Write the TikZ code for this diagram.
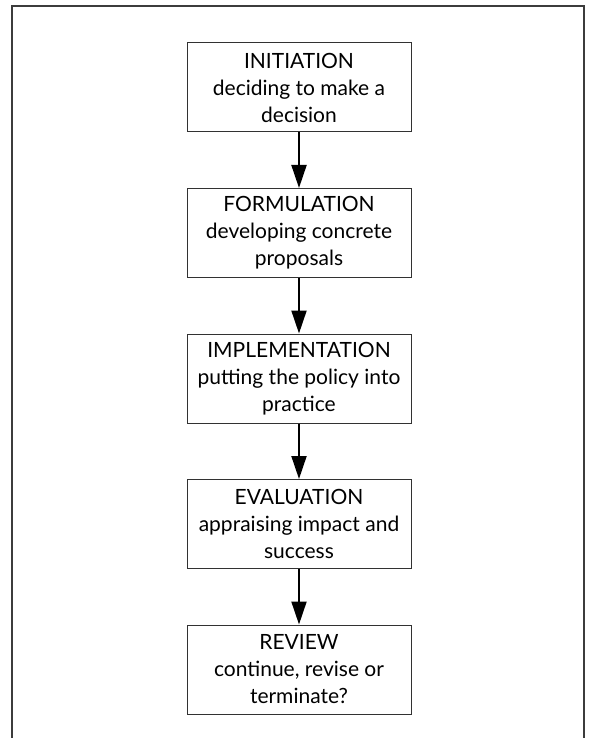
\documentclass[tikz,border=0pt]{standalone}
\usepackage{fontspec}
\setmainfont{Lato}
\usepackage{tikz}
\usetikzlibrary{positioning,calc}
\usetikzlibrary{arrows.meta}
\definecolor{FrameGray}{RGB}{60,60,60}
\definecolor{BoxGray}{RGB}{50,50,50}
\tikzset{
  stage/.style={draw=BoxGray,line width=1pt,fill=white,inner sep=4pt,
    minimum width=224pt,minimum height=89pt,align=center,
    font=\fontsize{21}{27}\selectfont},
  flow/.style={draw=black,line width=2pt,-{Triangle[length=23pt,width=15pt]}},
  outline/.style={draw=FrameGray,line width=1.6pt},
}
\begin{document}
\begin{tikzpicture}[x=1pt,y=1pt]
\useasboundingbox (0,0) rectangle (589,-738);
\coordinate (tl) at (12,-6);
\coordinate (tr) at (584,-6);
\coordinate (bl) at (12,-740);
\coordinate (br) at (584,-740);
\draw[outline] (bl)--(tl)--(tr)--(br);
\node[stage] (s1) at (299,-87.5) {INITIATION\\deciding to make a\\decision};
\node[stage,below=55.5pt of s1] (s2) {FORMULATION\\developing concrete\\proposals};
\node[stage,below=55.5pt of s2] (s3) {IMPLEMENTATION\\putting the policy into\\practice};
\node[stage,below=55.5pt of s3] (s4) {EVALUATION\\appraising impact and\\success};
\node[stage,below=55.5pt of s4] (s5) {REVIEW\\continue, revise or\\terminate?};
\foreach \a/\b in {s1/s2,s2/s3,s3/s4,s4/s5}
  \draw[flow] (\a)--(\b);
\end{tikzpicture}
\end{document}
